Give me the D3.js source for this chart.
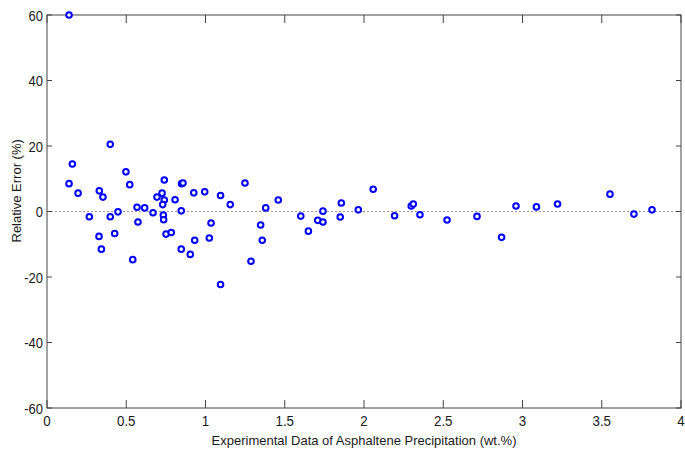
<!doctype html>
<html lang="en">
<head>
  <meta charset="utf-8">
  <title>Relative Error vs Asphaltene Precipitation</title>
  <script src="https://cdnjs.cloudflare.com/ajax/libs/d3/7.8.5/d3.min.js"></script>
  <style>
    body { margin: 0; background: #fff; }
    text { font-family: "Liberation Sans", Arial, sans-serif; fill: #1a1a1a; }
  </style>
</head>
<body>
<svg width="685" height="455" id="svg"></svg>
<script>

// experimental asphaltene precipitation (wt.%)
var expData = [0.139, 0.139, 0.160, 0.196, 0.267, 0.399, 0.328, 0.343, 0.330, 0.353,
  0.399, 0.427, 0.448, 0.498, 0.522, 0.541, 0.568, 0.574, 0.616, 0.669,
  0.694, 0.726, 0.740, 0.740, 0.730, 0.734, 0.736, 0.751, 0.784, 0.808,
  0.849, 0.858, 0.847, 0.847, 0.904, 0.926, 0.932, 0.995, 1.024, 1.035,
  1.095, 1.095, 1.156, 1.249, 1.287, 1.348, 1.358, 1.380, 1.459, 1.601,
  1.649, 1.708, 1.741, 1.741, 1.850, 1.857, 1.964, 2.058, 2.193, 2.298,
  2.311, 2.353, 2.524, 2.713, 2.868, 2.959, 3.088, 3.221, 3.552, 3.703, 3.817];

// relative error (%)
var relError = [60.0, 8.5, 14.5, 5.6, -1.6, 20.5, -7.6, -11.5, 6.3, 4.4,
  -1.6, -6.7, -0.1, 12.1, 8.2, -14.7, 1.3, -3.2, 1.1, -0.4,
  4.4, 5.6, 9.6, 3.5, 2.1, -1.1, -2.5, -6.9, -6.4, 3.6,
  8.5, 8.7, 0.2, -11.5, -13.1, 5.7, -8.8, 6.0, -8.1, -3.5,
  4.9, -22.3, 2.1, 8.7, -15.2, -4.1, -8.8, 1.1, 3.5, -1.4,
  -6.0, -2.7, 0.1, -3.2, -1.7, 2.6, 0.5, 6.8, -1.3, 1.7,
  2.3, -1.0, -2.6, -1.5, -7.9, 1.7, 1.4, 2.3, 5.3, -0.8, 0.5];

var xTicks = [0, 0.5, 1, 1.5, 2, 2.5, 3, 3.5, 4];
var yTicks = [-60, -40, -20, 0, 20, 40, 60];

var margin = {top: 15, right: 4, bottom: 47, left: 47};
var width = 685 - margin.left - margin.right;
var height = 455 - margin.top - margin.bottom;

var svg = d3.select('#svg');
var g = svg.append('g').attr('transform', 'translate(' + margin.left + ',' + margin.top + ')');

var x = d3.scaleLinear().domain([0, 4]).range([0, width]);
var y = d3.scaleLinear().domain([-60, 60]).range([height, 0]);

// zero reference line
g.append('line')
  .attr('x1', 0).attr('x2', width)
  .attr('y1', y(0)).attr('y2', y(0))
  .attr('stroke', '#999')
  .attr('stroke-width', 1.2)
  .attr('stroke-dasharray', '2,2');

// box
g.append('rect')
  .attr('width', width).attr('height', height)
  .attr('fill', 'none')
  .attr('stroke', '#444')
  .attr('stroke-width', 1);

// ticks inward on all four sides, labels a bit narrow like the original
xTicks.forEach(function(t) {
  g.append('line').attr('x1', x(t)).attr('x2', x(t)).attr('y1', height).attr('y2', height - 8).attr('stroke', '#444');
  g.append('line').attr('x1', x(t)).attr('x2', x(t)).attr('y1', 0).attr('y2', 8).attr('stroke', '#444');
  g.append('text')
    .attr('transform', 'translate(' + x(t) + ',' + (height + 18) + ') scale(0.86,1)')
    .attr('text-anchor', 'middle')
    .attr('font-size', 15.5)
    .text(t);
});

yTicks.forEach(function(t) {
  g.append('line').attr('x1', 0).attr('x2', 5).attr('y1', y(t)).attr('y2', y(t)).attr('stroke', '#444');
  g.append('line').attr('x1', width).attr('x2', width - 5).attr('y1', y(t)).attr('y2', y(t)).attr('stroke', '#444');
  g.append('text')
    .attr('transform', 'translate(-4,' + y(t) + ') scale(0.84,1)')
    .attr('dy', '0.36em')
    .attr('text-anchor', 'end')
    .attr('font-size', 15.5)
    .text(t);
});

// points
g.selectAll('circle')
  .data(expData)
  .enter()
  .append('circle')
  .attr('cx', function(d, i) { return x(d); })
  .attr('cy', function(d, i) { return y(relError[i]); })
  .attr('r', 2.8)
  .attr('fill', '#fff')
  .attr('stroke', '#0000ff')
  .attr('stroke-width', 2);

// axis titles
svg.append('text')
  .attr('x', margin.left + width / 2)
  .attr('y', 445)
  .attr('text-anchor', 'middle')
  .attr('font-size', 13)
  .text('Experimental Data of Asphaltene Precipitation (wt.%)');

svg.append('text')
  .attr('transform', 'translate(21,' + (margin.top + y(6.3)) + ') rotate(-90)')
  .attr('text-anchor', 'middle')
  .attr('font-size', 13)
  .text('Relative Error (%)');

</script>
</body>
</html>
